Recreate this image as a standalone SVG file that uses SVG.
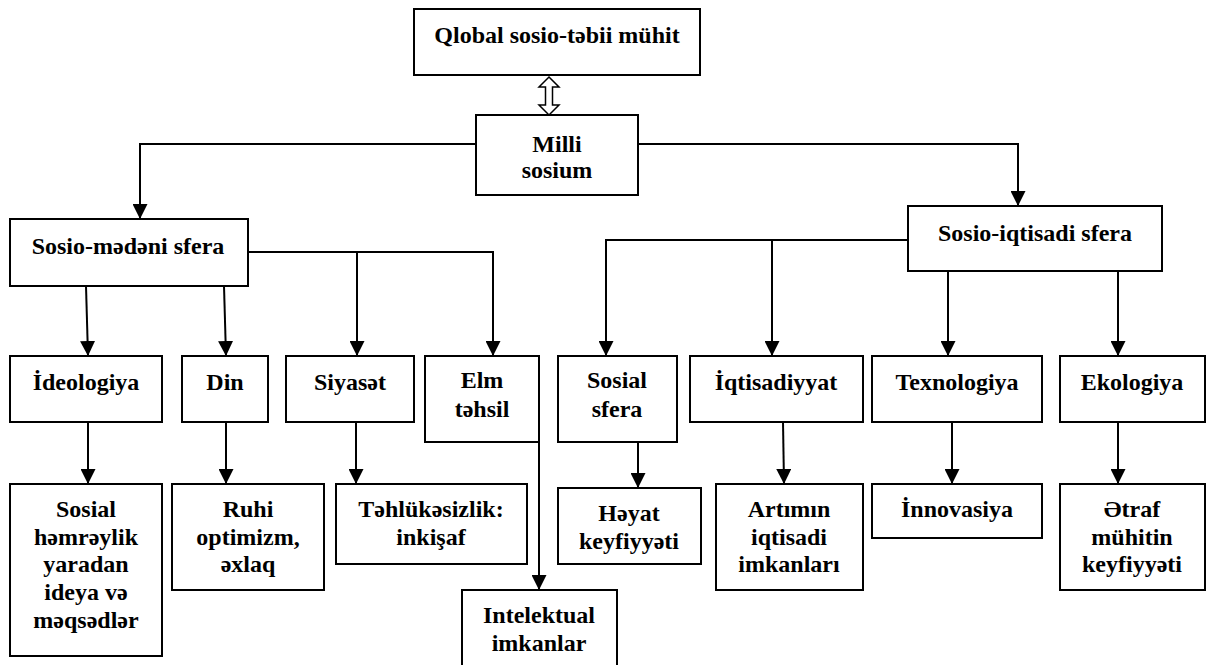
<svg xmlns="http://www.w3.org/2000/svg" width="1214" height="665" viewBox="0 0 1214 665" font-family="Liberation Serif, Times New Roman, serif">
<style>
.box{fill:#fff;stroke:#000;stroke-width:2}
.t{font-weight:bold;font-size:24px;fill:#000;text-anchor:middle}
.a{fill:none;stroke:#000;stroke-width:2;marker-end:url(#ah)}
</style>
<defs>
<marker id="ah" markerUnits="userSpaceOnUse" markerWidth="15" markerHeight="15" refX="15" refY="7.5" orient="auto" viewBox="0 0 15 15">
<path d="M0,0 L15,7.5 L0,15 z" fill="#000"/>
</marker>
</defs>
<g id="connectors">
<polygon points="549,77 559,87 552.5,87 552.5,105 559,105 549,115 539,105 545.5,105 545.5,87 539,87" fill="#fff" stroke="#000" stroke-width="1.5"/>
<polyline class="a" points="476,144 140,144 140,219"/>
<polyline class="a" points="638,144 1018,144 1018,206"/>
<polyline class="a" points="86,286 88,356"/>
<polyline class="a" points="224,286 226,356"/>
<polyline class="a" points="248,252 493,252 493,356"/>
<polyline class="a" points="357,252 357,356"/>
<polyline class="a" points="88,422 88,484"/>
<polyline class="a" points="226,422 226,484"/>
<polyline class="a" points="356,422 356,484"/>
<polyline class="a" points="539,442 539,590"/>
<polyline class="a" points="908,240 606,240 606,356"/>
<polyline class="a" points="772,240 772,356"/>
<polyline class="a" points="948,271 948,356"/>
<polyline class="a" points="1118,271 1118,356"/>
<polyline class="a" points="638,442 638,488"/>
<polyline class="a" points="783,422 784,484"/>
<polyline class="a" points="952,422 952,484"/>
<polyline class="a" points="1118,422 1118,484"/>
</g>
<g id="n-qlobal"><rect class="box" x="414" y="9" width="286" height="66"/><text class="t" x="557" y="43">Qlobal sosio-təbii mühit</text></g>
<g id="n-milli"><rect class="box" x="476" y="115" width="162" height="80"/><text class="t" x="557" y="152">Milli</text><text class="t" x="557" y="178">sosium</text></g>
<g id="n-sosiomedeni"><rect class="box" x="10" y="219" width="238" height="67"/><text class="t" x="128" y="254">Sosio-mədəni sfera</text></g>
<g id="n-sosioiqtisadi"><rect class="box" x="908" y="206" width="254" height="65"/><text class="t" x="1035" y="241">Sosio-iqtisadi sfera</text></g>
<g id="n-ideologiya"><rect class="box" x="10" y="356" width="152" height="66"/><text class="t" x="86" y="390">İdeologiya</text></g>
<g id="n-din"><rect class="box" x="182" y="356" width="86" height="66"/><text class="t" x="225" y="390">Din</text></g>
<g id="n-siyaset"><rect class="box" x="286" y="356" width="128" height="66"/><text class="t" x="350" y="390">Siyasət</text></g>
<g id="n-elm"><rect class="box" x="425" y="356" width="114" height="86"/><text class="t" x="482" y="388">Elm</text><text class="t" x="482" y="417">təhsil</text></g>
<g id="n-sosialsfera"><rect class="box" x="558" y="356" width="119" height="86"/><text class="t" x="617" y="388">Sosial</text><text class="t" x="617" y="417">sfera</text></g>
<g id="n-iqtisadiyyat"><rect class="box" x="690" y="356" width="173" height="66"/><text class="t" x="776" y="390">İqtisadiyyat</text></g>
<g id="n-texnologiya"><rect class="box" x="872" y="356" width="170" height="66"/><text class="t" x="957" y="390">Texnologiya</text></g>
<g id="n-ekologiya"><rect class="box" x="1060" y="356" width="145" height="66"/><text class="t" x="1132" y="390">Ekologiya</text></g>
<g id="n-sosial"><rect class="box" x="10" y="484" width="152" height="172"/><text class="t" x="86" y="517">Sosial</text><text class="t" x="86" y="545">həmrəylik</text><text class="t" x="86" y="572">yaradan</text><text class="t" x="86" y="600">ideya və</text><text class="t" x="86" y="628">məqsədlər</text></g>
<g id="n-ruhi"><rect class="box" x="172" y="484" width="152" height="106"/><text class="t" x="248" y="517">Ruhi</text><text class="t" x="248" y="545">optimizm,</text><text class="t" x="248" y="572">əxlaq</text></g>
<g id="n-tehlukesizlik"><rect class="box" x="336" y="484" width="191" height="80"/><text class="t" x="431" y="517">Təhlükəsizlik:</text><text class="t" x="431" y="545">inkişaf</text></g>
<g id="n-intelektual"><rect class="box" x="462" y="590" width="155" height="90"/><text class="t" x="539" y="623">Intelektual</text><text class="t" x="539" y="651">imkanlar</text></g>
<g id="n-heyat"><rect class="box" x="558" y="488" width="143" height="76"/><text class="t" x="629" y="521">Həyat</text><text class="t" x="629" y="549">keyfiyyəti</text></g>
<g id="n-artimin"><rect class="box" x="716" y="484" width="147" height="106"/><text class="t" x="789" y="517">Artımın</text><text class="t" x="789" y="545">iqtisadi</text><text class="t" x="789" y="572">imkanları</text></g>
<g id="n-innovasiya"><rect class="box" x="872" y="484" width="170" height="54"/><text class="t" x="957" y="517">İnnovasiya</text></g>
<g id="n-etraf"><rect class="box" x="1060" y="484" width="145" height="106"/><text class="t" x="1132" y="517">Ətraf</text><text class="t" x="1132" y="545">mühitin</text><text class="t" x="1132" y="572">keyfiyyəti</text></g>
</svg>
